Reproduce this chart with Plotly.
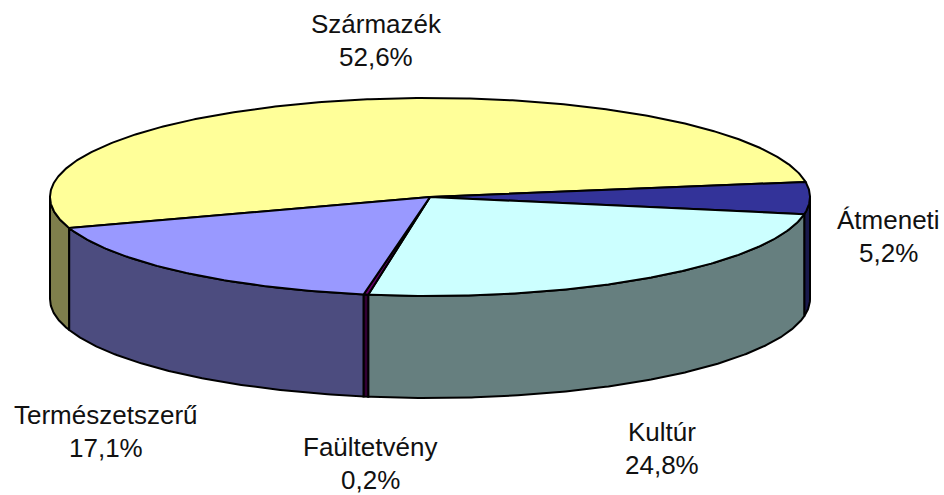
import numpy as np
import plotly.graph_objects as go

categories = ["Származék", "Átmeneti", "Kultúr", "Faültetvény", "Természetszerű"]
shares = [52.6, 5.2, 24.8, 0.2, 17.1]
top_colors = ["#FFFF99", "#333399", "#CCFFFF", "#660066", "#9999FF"]
side_colors = ["#7F7F4C", "#19194C", "#667F7F", "#330033", "#4C4C7F"]
label_centres = [(376, 24), (888, 220), (662, 432), (370, 447), (106, 415)]

W, H = 944, 495
CX, CY, RX, RY, DEPTH = 430, 197, 380, 99, 102
START = 198.3  # degrees, first slice begins here and runs clockwise
LINE = dict(color="black", width=2)
FONT = dict(family="Liberation Sans, Arial, sans-serif", size=26, color="#111111")


def ex(t):
    return CX + RX * np.cos(np.radians(t))


def ey(t):
    return CY - RY * np.sin(np.radians(t))


values = np.array(shares, dtype=float)
spans = values / values.sum() * 360.0
# Slices run clockwise on screen from the start angle (decreasing t).
ends = START - np.cumsum(spans)
starts = ends + spans

fig = go.Figure()


def add_poly(xs, ys, color, name):
    fig.add_trace(go.Scatter(x=xs, y=ys, mode="lines", fill="toself", fillcolor=color,
                             line=LINE, hoverinfo="skip", showlegend=False, name=name))


# Walls: only the part of each slice's arc that faces the viewer
for name, s, e, col in zip(categories, starts, ends, side_colors):
    for k in (-360, 0, 360):
        lo, hi = max(e, -180 + k), min(s, 0 + k)
        if hi > lo:
            t = np.linspace(hi, lo, max(int((hi - lo) * 2), 3))
            xs = np.concatenate([ex(t), ex(t[::-1]), ex(t[:1])])
            ys = np.concatenate([ey(t), ey(t[::-1]) + DEPTH, ey(t[:1])])
            add_poly(xs, ys, col, name)

# Top faces
for name, s, e, col in zip(categories, starts, ends, top_colors):
    t = np.linspace(s, e, max(int((s - e) * 2), 3))
    xs = np.concatenate([[CX], ex(t), [CX]])
    ys = np.concatenate([[CY], ey(t), [CY]])
    add_poly(xs, ys, col, name)

for name, share, (lx, ly) in zip(categories, shares, label_centres):
    pct = f"{share:.1f}%".replace(".", ",")
    fig.add_annotation(x=lx, y=ly, text=name, showarrow=False, xanchor="center",
                       yanchor="middle", font=FONT)
    fig.add_annotation(x=lx, y=ly + 33, text=pct, showarrow=False, xanchor="center",
                       yanchor="middle", font=FONT)

fig.update_layout(
    width=W, height=H, margin=dict(l=0, r=0, t=0, b=0),
    paper_bgcolor="white", plot_bgcolor="white",
    xaxis=dict(range=[0, W], visible=False, fixedrange=True),
    yaxis=dict(range=[H, 0], visible=False, fixedrange=True),
)
fig.write_html("out.html", config={"displayModeBar": False},
               post_script="document.body.style.margin='0';document.documentElement.style.overflow='hidden';")
